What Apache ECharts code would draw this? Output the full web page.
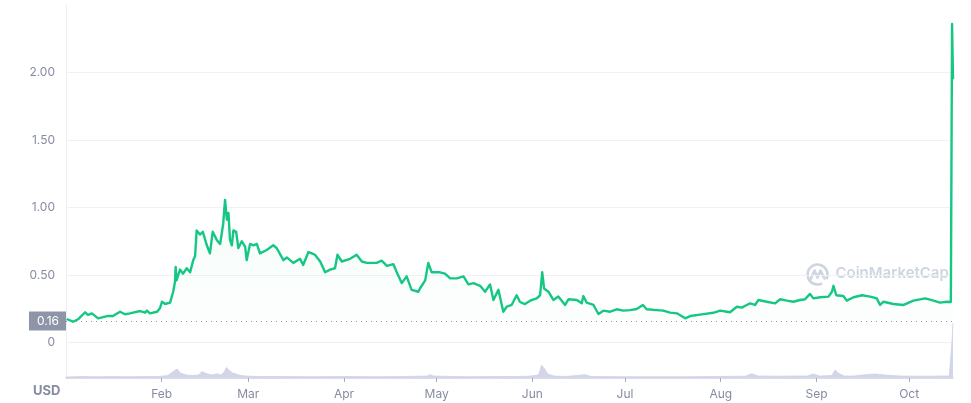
<!DOCTYPE html>
<html>
<head>
<meta charset="utf-8">
<script src="https://cdn.jsdelivr.net/npm/echarts@6/dist/echarts.min.js"></script>
<style>
html,body{margin:0;padding:0;background:#fff;}
#chart{width:971px;height:403px;}
</style>
</head>
<body>
<div id="chart"></div>
<script>
// Days counted from Jan 1 (day 0); price in USD
const priceData = [
  [0.2,0.174],[2.3,0.154],[3.9,0.172],[6.2,0.224],[7.1,0.204],[8.4,0.216],[10.4,0.179],
  [13.3,0.196],[15.2,0.196],[17.5,0.228],[19.1,0.209],[20.7,0.216],[24,0.233],[25.6,0.221],
  [26.2,0.236],[27.2,0.216],[29.5,0.228],[30.4,0.253],[31.1,0.302],[32.1,0.285],[33.7,0.295],
  [34.7,0.376],[35.3,0.45],[35.5,0.56],[35.8,0.46],[36.9,0.54],[37.9,0.51],[39.1,0.55],
  [40.2,0.52],[41.2,0.61],[41.8,0.64],[42.3,0.83],[43.4,0.80],[44.3,0.82],[45.6,0.72],
  [46.6,0.66],[47.5,0.82],[48.8,0.76],[49.9,0.73],[50.9,0.88],[51.5,1.056],[52.1,0.91],
  [52.6,0.96],[53.1,0.76],[53.7,0.72],[54.2,0.83],[55.1,0.82],[55.8,0.70],[56.9,0.75],
  [58,0.71],[58.5,0.61],[59.6,0.73],[60.7,0.72],[61.8,0.73],[62.8,0.66],[65,0.685],
  [67.1,0.72],[68.2,0.70],[70.4,0.61],[71.5,0.63],[73.6,0.59],[75.8,0.62],[76.8,0.574],
  [78.5,0.67],[79.6,0.66],[80.6,0.65],[82.3,0.60],[83.9,0.52],[85.5,0.54],[87.1,0.55],
  [87.9,0.65],[89.3,0.60],[92,0.62],[94.1,0.65],[95.8,0.60],[97.4,0.59],[100.6,0.59],
  [102.2,0.606],[103.9,0.567],[106,0.58],[107.1,0.52],[108.7,0.44],[110.3,0.49],[111.9,0.39],
  [114.1,0.376],[114.6,0.40],[116.3,0.46],[117.3,0.59],[118.4,0.52],[121.1,0.52],[122.7,0.51],
  [124.4,0.475],[126.5,0.475],[128.7,0.49],[130.3,0.43],[131.9,0.44],[134.1,0.42],[135.7,0.376],
  [137.3,0.43],[138.4,0.315],[140,0.39],[141.6,0.228],[142.7,0.265],[144.3,0.278],[145.9,0.35],
  [147,0.30],[148.6,0.285],[150.3,0.31],[152.4,0.327],[153.5,0.35],[154.2,0.52],[154.8,0.40],
  [156.2,0.376],[157.8,0.315],[159.4,0.34],[161.6,0.278],[162.7,0.32],[165.4,0.315],[167,0.29],
  [167.5,0.344],[168.6,0.295],[170.8,0.278],[172.4,0.211],[174,0.236],[176.2,0.228],[178.3,0.246],
  [180.5,0.236],[182.6,0.24],[184.8,0.248],[186.8,0.278],[188,0.246],[191.3,0.24],[193.4,0.236],
  [195.6,0.221],[197.8,0.216],[200.5,0.179],[202.1,0.196],[206.4,0.21],[209.6,0.22],[211.8,0.236],
  [214,0.228],[215,0.224],[217.2,0.265],[218.8,0.258],[220.4,0.278],[221.5,0.29],[223.1,0.278],
  [224.2,0.315],[226.9,0.302],[229.6,0.29],[231.2,0.32],[233.4,0.31],[235.5,0.302],[237.7,0.315],
  [239.3,0.32],[240.9,0.36],[242,0.327],[244.2,0.335],[246.9,0.34],[248,0.376],[248.5,0.42],
  [249.4,0.35],[251.7,0.344],[252.8,0.31],[255,0.335],[257.7,0.35],[260.4,0.34],[262.5,0.327],
  [263.6,0.278],[264.7,0.302],[267.9,0.285],[271.2,0.278],[274.4,0.31],[278.2,0.327],[280.9,0.31],
  [283,0.295],[285.2,0.302],[286.5,0.30],[286.9,2.36],[287.2,1.95]
];
// Volume (relative units)
const volumeData = [
  [0,1],[5,1.5],[10,1.2],[15,1.5],[20,1.3],[25,1.4],[30,1.5],[33,2.5],[35,7],[36,9],[37,5],
  [39,3],[41,2.5],[43,3],[44,6.5],[45,5],[47,3],[48,3.5],[49,4.3],[50,3],[51,5],[52,10.5],
  [53,7],[54,5],[56,3],[58,2],[62,1.5],[70,1.5],[80,1.3],[90,1.5],[100,1.3],[110,1.5],
  [117,2],[118,3.3],[119,2],[125,1.5],[130,1.3],[140,1.5],[145,1.5],[150,1.8],[153,3],
  [154,12.7],[155,9],[156,4],[158,2],[162,1.5],[168,3.3],[170,1.5],[180,1.3],[190,1.2],
  [200,1.2],[210,1.5],[220,1.8],[222,4.3],[224,2],[230,1.8],[240,2],[242,4],[244,2],
  [248,2.5],[249,8],[250,5],[252,2],[255,2],[258,3],[262,4],[265,3],[270,2],[275,1.8],
  [280,1.8],[285,2],[286,2],[286.9,38],[287.2,55]
];
const monthStarts = [31, 59, 90, 120, 151, 181, 212, 243, 273];
const monthLabels = ['Feb','Mar','Apr','May','Jun','Jul','Aug','Sep','Oct'];
const priceTicks = [0, 0.5, 1, 1.5, 2];
const openPrice = 0.163;
const lastDay = 287.2;

const FONT = 'Inter, "Noto Sans", sans-serif';
const chart = echarts.init(document.getElementById('chart'), null, {renderer: 'canvas'});

const gridLineItems = priceTicks.map(v => ({
  yAxis: v,
  lineStyle: {type: 'solid', color: '#eff2f5', width: 1},
  label: {show: false}
}));

chart.setOption({
  animation: false,
  backgroundColor: '#ffffff',
  grid: [
    {left: 66, right: 18, top: 5, height: 337.5},
    {left: 66, right: 18, top: 320, bottom: 25}
  ],
  xAxis: [
    {type: 'value', gridIndex: 0, min: 0, max: lastDay, show: false},
    {type: 'value', gridIndex: 1, min: 0, max: lastDay,
      axisLine: {show: true, lineStyle: {color: '#cfd3e3', width: 1.5}},
      axisTick: {show: true, customValues: monthStarts, length: 4, lineStyle: {color: '#a6acbf'}},
      axisLabel: {show: true, customValues: monthStarts, margin: 10,
        color: '#858ca2', fontSize: 12, fontFamily: FONT,
        formatter: v => monthLabels[monthStarts.indexOf(Math.round(v))] || ''},
      splitLine: {show: false}
    }
  ],
  yAxis: [
    {type: 'value', gridIndex: 0, min: 0, max: 2.5, interval: 0.5,
      axisLine: {show: true, lineStyle: {color: '#eceff3'}},
      axisTick: {show: false},
      axisLabel: {margin: 11, color: '#858ca2', fontSize: 12, fontFamily: FONT,
        formatter: v => priceTicks.indexOf(v) < 0 ? '' : (v === 0 ? '0' : v.toFixed(2))},
      splitLine: {show: false}
    },
    {type: 'value', gridIndex: 1, min: 0, max: 58,
      axisLine: {show: true, lineStyle: {color: '#eceff3'}},
      axisTick: {show: false}, axisLabel: {show: false}, splitLine: {show: false}
    }
  ],
  series: [
    {
      type: 'line', xAxisIndex: 1, yAxisIndex: 1, data: volumeData,
      symbol: 'none', lineStyle: {width: 0.8, color: '#cfd2e6'},
      areaStyle: {color: '#d3d6e8', opacity: 1}, z: 1
    },
    {
      type: 'line', xAxisIndex: 0, yAxisIndex: 0, data: priceData,
      symbol: 'none', z: 3,
      lineStyle: {color: '#16c784', width: 2.4, join: 'round'},
      areaStyle: {
        origin: openPrice,
        color: new echarts.graphic.LinearGradient(0, 0, 0, 1, [
          {offset: 0, color: 'rgba(22,199,132,0.13)'},
          {offset: 1, color: 'rgba(22,199,132,0.015)'}
        ])
      },
      markLine: {
        silent: true, symbol: 'none', z: 1,
        lineStyle: {type: [1, 4], color: '#8f96aa', width: 1},
        label: {
          show: true, position: 'start', distance: 0,
          formatter: () => openPrice.toFixed(2),
          color: '#ffffff', backgroundColor: '#8f95a8',
          padding: [4, 7, 3, 8], fontSize: 12, fontFamily: FONT
        },
        data: gridLineItems.concat([{yAxis: openPrice}])
      }
    }
  ],
  graphic: [
    {type: 'text', left: 33, top: 385,
      style: {text: 'USD', fill: '#858ca2', font: 'bold 13px ' + FONT}},
    {type: 'group', left: 805, top: 262, silent: true, children: [
      {type: 'arc', shape: {cx: 11, cy: 11, r: 10, startAngle: Math.PI * 0.35, endAngle: Math.PI * 2.15},
        style: {stroke: '#cfd5e0', lineWidth: 2.6, fill: null}},
      {type: 'polyline', shape: {points: [[4,16],[8,7],[11,14],[14,7],[18,15]]},
        style: {stroke: '#cfd5e0', lineWidth: 2.6, fill: null, lineJoin: 'round', lineCap: 'round'}},
      {type: 'text', x: 29, y: 2,
        style: {text: 'CoinMarketCap', fill: '#cfd5e0', font: '600 15px ' + FONT}}
    ]}
  ]
});
</script>
</body>
</html>
